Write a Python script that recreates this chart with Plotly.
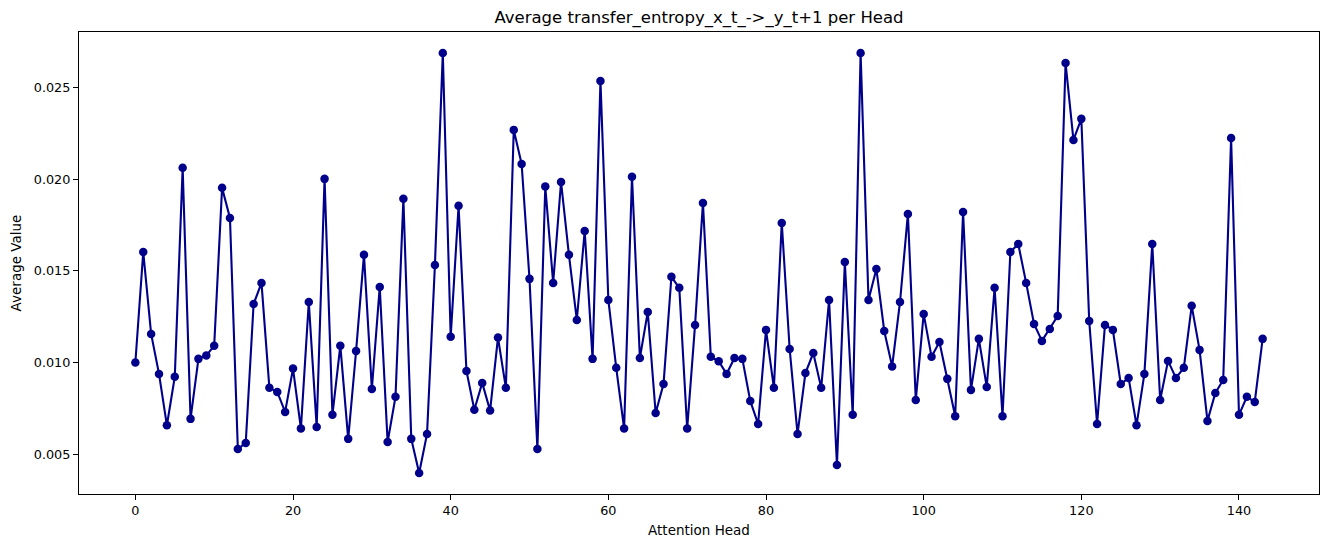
import plotly.graph_objects as go

# average transfer entropy per attention head
heads = list(range(144))
avg_values = [
    0.0100, 0.01603, 0.01156, 0.00938, 0.00658, 0.00922, 0.02061, 0.00693,
    0.0102, 0.01038, 0.01092, 0.01952, 0.01788, 0.00529, 0.00562, 0.01319,
    0.01434, 0.00862, 0.0084, 0.00731, 0.00967, 0.0064, 0.0133, 0.00649,
    0.02001, 0.00715, 0.01092, 0.00584, 0.01063, 0.01587, 0.00856, 0.01412,
    0.00567, 0.00813, 0.01893, 0.00584, 0.00398, 0.00611, 0.01532, 0.02687,
    0.0114, 0.01854, 0.00954, 0.00743, 0.00889, 0.00738, 0.01136, 0.00862,
    0.02268, 0.02082, 0.01456, 0.00529, 0.01959, 0.01434, 0.01984, 0.01587,
    0.01232, 0.01717, 0.0102, 0.02535, 0.01341, 0.00971, 0.0064, 0.02013,
    0.01025, 0.01276, 0.00725, 0.00883, 0.01467, 0.01407, 0.0064, 0.01205,
    0.0187, 0.01031, 0.01007, 0.00938, 0.01025, 0.0102, 0.00791, 0.00665,
    0.01178, 0.00862, 0.01761, 0.01074, 0.00611, 0.00943, 0.01052, 0.00862,
    0.01341, 0.00442, 0.01548, 0.00715, 0.02687, 0.01341, 0.0151, 0.01172,
    0.00979, 0.0133, 0.0181, 0.00796, 0.01265, 0.01031, 0.01112, 0.00911,
    0.00707, 0.01821, 0.00851, 0.01129, 0.00867, 0.01407, 0.00707, 0.01603,
    0.01646, 0.01434, 0.0121, 0.01118, 0.01183, 0.01254, 0.02633, 0.02213,
    0.02328, 0.01227, 0.00665, 0.01205, 0.01178, 0.00883, 0.00916, 0.00658,
    0.00938, 0.01646, 0.00796, 0.01009, 0.00916, 0.00971, 0.01309, 0.01069,
    0.00682, 0.00834, 0.00905, 0.02224, 0.00715, 0.00813, 0.00785, 0.01129,
]

font_family = 'DejaVu Sans, Liberation Sans, sans-serif'

# matplotlib-like 5% padding around the data
x_pad = (max(heads) - min(heads)) * 0.05
y_pad = (max(avg_values) - min(avg_values)) * 0.05

trace = go.Scatter(
    x=heads,
    y=avg_values,
    mode='lines+markers',
    line=dict(color='#00008B', width=2.1),
    marker=dict(color='#00008B', size=8.5),
    showlegend=False,
)

axis_style = dict(
    showgrid=False,
    zeroline=False,
    showline=True,
    mirror=True,
    linecolor='black',
    linewidth=1.1,
    ticks='outside',
    ticklen=5,
    tickwidth=1.1,
    tickcolor='black',
    tickfont=dict(family=font_family, size=12.8, color='black'),
)

layout = go.Layout(
    width=1328,
    height=547,
    paper_bgcolor='white',
    plot_bgcolor='white',
    margin=dict(l=79, r=9, t=32, b=53),
    title=dict(
        text='Average transfer_entropy_x_t_->_y_t+1 per Head',
        x=0.5,
        xref='paper',
        y=0.969,
        yref='container',
        yanchor='middle',
        font=dict(family=font_family, size=16.5, color='black'),
    ),
    xaxis=dict(
        axis_style,
        range=[min(heads) - x_pad, max(heads) + x_pad],
        tick0=0,
        dtick=20,
        title=dict(text='Attention Head', standoff=8,
                   font=dict(family=font_family, size=13.5, color='black')),
    ),
    yaxis=dict(
        axis_style,
        range=[min(avg_values) - y_pad, max(avg_values) + y_pad],
        tick0=0,
        dtick=0.005,
        tickformat='.3f',
        title=dict(text='Average Value', standoff=9,
                   font=dict(family=font_family, size=13.5, color='black')),
    ),
)

fig = go.Figure(data=[trace], layout=layout)
# drop the browser's default body margin so the figure sits at the page corner
fig.write_html('out.html', config={'displayModeBar': False},
               post_script="document.body.style.margin = '0';")
